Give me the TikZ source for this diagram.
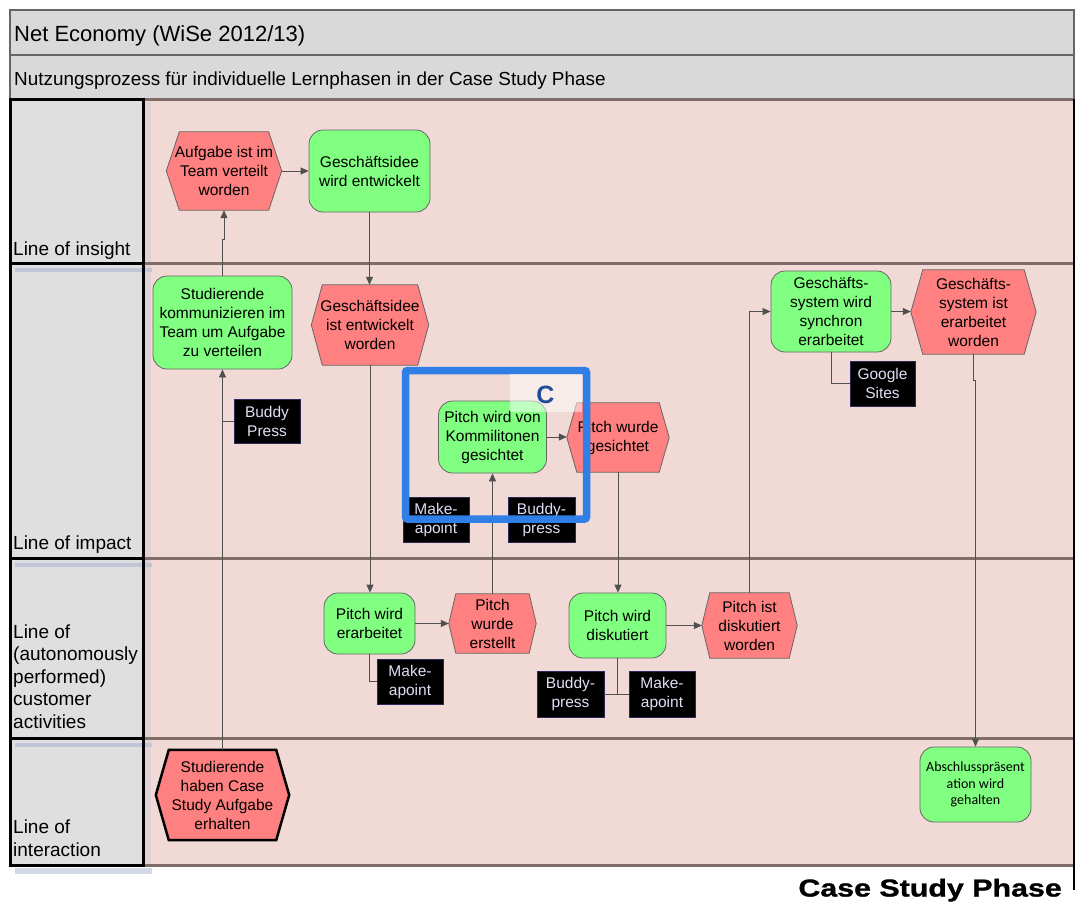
\documentclass[tikz,border=0pt]{standalone}
\usepackage{fontspec}
\setmainfont{Liberation Sans}
\newfontfamily\calfont{Carlito}
\newfontfamily\phasefont[FakeStretch=1.24,BoldFeatures={FakeBold=1.2}]{Liberation Sans}
\usetikzlibrary{calc,arrows.meta}
\pgfdeclarelayer{back}
\pgfdeclarelayer{shapes}
\pgfsetlayers{back,shapes,main}

\definecolor{hexred}{RGB}{255,128,128}
\definecolor{actgreen}{RGB}{128,255,128}
\definecolor{lanepink}{RGB}{241,218,214}
\definecolor{headgray}{RGB}{217,217,217}
\definecolor{labelgray}{RGB}{223,223,223}
\definecolor{lanerule}{RGB}{128,108,104}
\definecolor{edgegray}{RGB}{102,102,102}
\definecolor{toolrim}{RGB}{40,40,90}
\definecolor{tooltext}{RGB}{222,222,245}
\definecolor{wiregray}{RGB}{80,80,80}
\definecolor{markblue}{RGB}{47,127,230}
\definecolor{markletter}{RGB}{31,78,150}
\definecolor{shadeblue}{RGB}{184,192,214}

\tikzset{
  nodefont/.style={font=\fontsize{15.5}{19}\selectfont},
  act/.style={draw=edgegray, fill=actgreen, rounded corners=14pt, align=center,
    inner sep=0pt, nodefont, line width=0.8pt},
  state/.style={align=center, inner sep=0pt, nodefont},
  tool/.style={draw=toolrim, fill=black, text=tooltext, align=center,
    inner sep=0pt, nodefont, line width=0.8pt},
  flow/.style={draw=wiregray, line width=0.8pt, -{Triangle[length=8pt,width=7pt]}},
  link/.style={draw=wiregray, line width=0.8pt},
  lanelabel/.style={anchor=base west, align=left, inner sep=0pt,
    font=\fontsize{19}{22.5}\selectfont},
  hexfill/.style={fill=hexred, draw=edgegray, line width=0.8pt},
}

% hexagonal outline behind a named state node; #3 = indent of the side points
\newcommand{\hexback}[3][]{%
  \begin{pgfonlayer}{shapes}
    \path[hexfill,#1] ($(#2.north west)+(#3,0)$) -- ($(#2.north east)+(-#3,0)$)
      -- (#2.east) -- ($(#2.south east)+(-#3,0)$) -- ($(#2.south west)+(#3,0)$)
      -- (#2.west) -- cycle;
  \end{pgfonlayer}}

\begin{document}
\begin{tikzpicture}[x=1pt,y=-1pt]
\useasboundingbox (0,0) rectangle (1076,902);

% ---- header bars and swimlanes
\begin{pgfonlayer}{back}
  \draw[fill=headgray, draw=edgegray, line width=1.2pt] (10,10) rectangle (1074,55);
  \draw[fill=headgray, draw=edgegray, line width=1.2pt] (10,55) rectangle (1074,99);
  \fill[lanepink] (143,99) rectangle (1074,865);
  \fill[shadeblue!30!lanepink] (145,102) rectangle (151,865);
  \foreach \yy in {99,263,558,738,865}
    \draw[lanerule, line width=3pt] (143,\yy) -- (1074,\yy);
  \fill[labelgray] (10,99) rectangle (143,865);
  \foreach \yy in {268,563,743}
    \fill[shadeblue!80!labelgray] (15,\yy) rectangle (152,\yy+4);
  \fill[shadeblue!60!white] (15,868) rectangle (152,874);
  \draw[black, line width=3pt] (10,99) rectangle (143,865);
  \foreach \yy in {263,558,738}
    \draw[black, line width=3pt] (10,\yy) -- (143,\yy);
  \draw[black, line width=1.5pt] (1074,99) -- (1074,890);
\end{pgfonlayer}

\node[anchor=base west, inner sep=0pt, font=\fontsize{22}{26}\selectfont] (title) at (14,41)
  {Net Economy (WiSe 2012/13)};
\node[anchor=base west, inner sep=0pt, font=\fontsize{18.9}{22}\selectfont] (subtitle) at (14,85)
  {Nutzungsprozess für individuelle Lernphasen in der Case Study Phase};

\node[lanelabel] (l1) at (13,255) {Line of insight};
\node[lanelabel] (l2) at (13,549) {Line of impact};
\node[lanelabel] (l3) at (13,728) {Line of\\(autonomously\\performed)\\customer\\activities};
\node[lanelabel] (l4) at (13,856) {Line of\\interaction};

\node[anchor=base east, inner sep=0pt, font=\phasefont\bfseries\fontsize{24.5}{28}\selectfont]
  (phase) at (1062,896.5) {Case Study Phase};

% ---- states (hexagons)
\node[state, minimum width=115pt, minimum height=78pt] (A1) at (224,171)
  {Aufgabe ist im\\Team verteilt\\worden};
\node[state, minimum width=117pt, minimum height=80pt] (H2) at (370,325)
  {Geschäftsidee\\ist entwickelt\\worden};
\node[state, minimum width=102pt, minimum height=69pt] (H3) at (618,437.5)
  {Pitch wurde\\gesichtet};
\node[state, minimum width=125pt, minimum height=84pt] (H4) at (973.5,312)
  {Geschäfts-\\system ist\\erarbeitet\\worden};
\node[state, minimum width=87pt, minimum height=59pt] (H5) at (492.5,623.5)
  {Pitch\\wurde\\erstellt};
\node[state, minimum width=95pt, minimum height=65pt] (H6) at (749.5,625.5)
  {Pitch ist\\diskutiert\\worden};
\node[state, minimum width=133pt, minimum height=90pt] (H7) at (222.5,795)
  {Studierende\\haben Case\\Study Aufgabe\\erhalten};
\hexback{A1}{13}
\hexback{H2}{11}
\hexback{H3}{10}
\hexback{H4}{12}
\hexback{H5}{7}
\hexback{H6}{8}
\hexback[draw=black, line width=2.5pt]{H7}{13}

% ---- activities (rounded boxes)
\node[act, minimum width=121pt, minimum height=82pt] (G1) at (369.5,171)
  {Geschäftsidee\\wird entwickelt};
\node[act, minimum width=139pt, minimum height=93pt] (S1) at (222.5,322.5)
  {Studierende\\kommunizieren im\\Team um Aufgabe\\zu verteilen};
\node[act, minimum width=108pt, minimum height=72pt] (P1) at (492.5,437)
  {Pitch wird von\\Kommilitonen\\gesichtet};
\node[act, minimum width=120pt, minimum height=81pt] (G2) at (831,311.5)
  {Geschäfts-\\system wird\\synchron\\erarbeitet};
\node[act, minimum width=91pt, minimum height=61pt] (P2) at (369.5,623.5)
  {Pitch wird\\erarbeitet};
\node[act, minimum width=97pt, minimum height=65pt] (P3) at (617.5,625.5)
  {Pitch wird\\diskutiert};
\node[act, minimum width=111pt, minimum height=75pt, font=\calfont\fontsize{14}{16.7}\selectfont]
  (G3) at (975.5,784.5) {Abschlusspräsent\\ation wird\\gehalten};

% ---- tools (black boxes)
\node[tool, minimum width=66pt, minimum height=44pt] (BP1) at (267,421) {Buddy\\Press};
\node[tool, minimum width=66pt, minimum height=45pt] (MA1) at (436,519.5) {Make-\\apoint};
\node[tool, minimum width=67pt, minimum height=45pt] (BP2) at (541.5,519.5) {Buddy-\\press};
\node[tool, minimum width=65pt, minimum height=45pt] (GS) at (882.5,383.5) {Google\\Sites};
\node[tool, minimum width=66pt, minimum height=45pt] (MA2) at (410,681.5) {Make-\\apoint};
\node[tool, minimum width=67pt, minimum height=46pt] (BP3) at (570.5,694) {Buddy-\\press};
\node[tool, minimum width=66pt, minimum height=46pt] (MA3) at (662,694) {Make-\\apoint};

% ---- control flow
\draw[flow] (H7.north) -- (H7.north |- S1.south);
\draw[link] (BP1.west) -- (BP1.west -| S1.south);
\draw[flow] (S1.north) -- ++(0,-36) -| (A1.south);
\draw[flow] (A1.east) -- (G1.west);
\draw[flow] (G1.south) -- (G1.south |- H2.north);
\draw[flow] (H2.south) -- (H2.south |- P2.north);
\draw[flow] (P2.east) -- (P2.east -| H5.west);
\draw[link] (P2.south) |- (MA2.west);
\draw[flow] (H5.north) -- (H5.north |- P1.south);
\draw[flow] (P1.east) -- (P1.east -| H3.west);
\draw[flow] (H3.south) -- (H3.south |- P3.north);
\draw[link] (P3.south) |- (BP3.east);
\draw[link] (P3.south) |- (MA3.west);
\draw[flow] (P3.east) -- (P3.east -| H6.west);
\draw[flow] (H6.north) |- (G2.west);
\draw[flow] (G2.east) -- (G2.east -| H4.west);
\draw[link] (G2.south) |- (GS.west);
\draw[flow] (H4.south) -- ++(0,26) -| (G3.north);

% ---- highlight frame with its letter
\draw[markblue, line width=7.5pt, rounded corners=2pt] (405.5,370.5) rectangle (586.5,519);
\fill[white, opacity=0.5] (510,374) rectangle (582,411.5);
\node[text=markletter, inner sep=0pt, font=\bfseries\fontsize{25}{30}\selectfont] (mark) at (545.5,395) {C};
\end{tikzpicture}
\end{document}
